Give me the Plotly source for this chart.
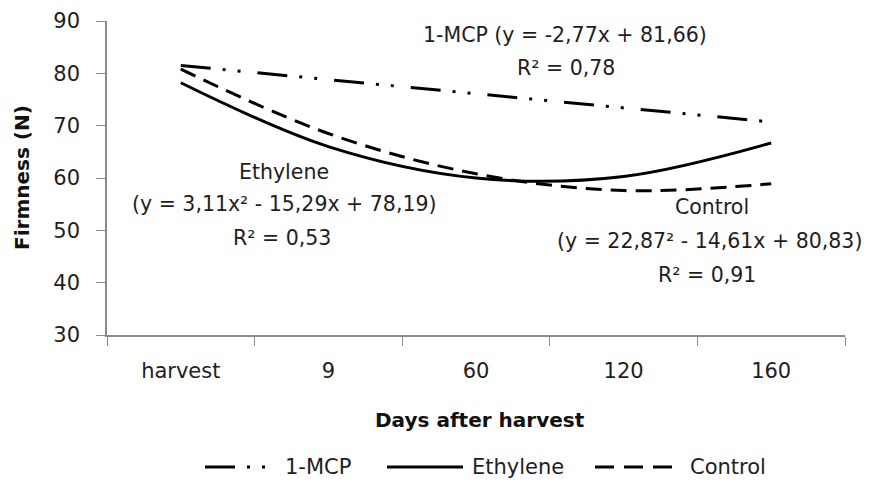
import plotly.graph_objects as go

categories = ["harvest", "9", "60", "120", "160"]
mcp = [81.5, 78.8, 76.1, 73.4, 70.7]
ethylene = [78.2, 66.0, 60.0, 60.3, 66.7]
control = [80.8, 68.5, 60.8, 57.6, 58.9]

series_names = ["1-MCP", "Ethylene", "Control"]

FONT = "DejaVu Sans"
MCP_DASH = "30px,12px,3px,12px,3px,17px"
CTRL_DASH = "16px,9px"
TXT = "#1e1e1e"

# page is 873x482; the html body adds an 8px margin around the figure
OFF = 8
W, H = 873 - OFF, 482 - OFF
PL, PT, PR, PB = 107, 21, 845, 335          # plot area in page pixels
L, T = PL - OFF, PT - OFF
R, B = 873 - PR, 482 - PB
PW, PH = PR - PL, PB - PT


def px2paper(px, py):
    return (px - PL) / PW, 1 - (py - PT) / PH


fig = go.Figure()
fig.add_trace(go.Scatter(
    x=categories, y=mcp, name=series_names[0], mode="lines",
    line=dict(color="black", width=3, dash=MCP_DASH),
))
fig.add_trace(go.Scatter(
    x=categories, y=ethylene, name=series_names[1], mode="lines",
    line=dict(color="black", width=3, shape="spline", smoothing=1.0),
))
fig.add_trace(go.Scatter(
    x=categories, y=control, name=series_names[2], mode="lines",
    line=dict(color="black", width=3, dash=CTRL_DASH, shape="spline", smoothing=1.0),
))

annotations = [
    ("1-MCP (y = -2,77x + 81,66)", 565, 35),
    ("R² = 0,78", 566, 68),
    ("Ethylene", 284, 172),
    ("(y = 3,11x² - 15,29x + 78,19)", 284, 204),
    ("R² = 0,53", 282, 238),
    ("Control", 712, 207),
    ("(y = 22,87² - 14,61x + 80,83)", 709, 241),
    ("R² = 0,91", 707, 275),
]
for text, px, py in annotations:
    x, y = px2paper(px, py)
    fig.add_annotation(
        text=text, xref="paper", yref="paper", x=x, y=y,
        xanchor="center", yanchor="middle", showarrow=False,
        font=dict(family=FONT, size=20.5, color=TXT),
    )

# axis titles
x, y = px2paper(480, 420)
fig.add_annotation(text="<b>Days after harvest</b>", xref="paper", yref="paper",
                   x=x, y=y, xanchor="center", yanchor="middle", showarrow=False,
                   font=dict(family=FONT, size=20, color="#111"))
x, y = px2paper(22, 178)
fig.add_annotation(text="<b>Firmness (N)</b>", xref="paper", yref="paper",
                   x=x, y=y, xanchor="center", yanchor="middle", showarrow=False,
                   textangle=-90, font=dict(family=FONT, size=20, color="#111"))

# manual legend (long symbols like the original)
legend_items = [
    (series_names[0], 205, 272, 283, MCP_DASH),
    (series_names[1], 387, 463, 470, "solid"),
    (series_names[2], 595, 672, 688, "19px,10px"),
]
LEG_Y = 467
for name, x0, x1, tx, dash in legend_items:
    a0, b = px2paper(x0, LEG_Y)
    a1, _ = px2paper(x1, LEG_Y)
    fig.add_shape(type="line", xref="paper", yref="paper",
                  x0=a0, x1=a1, y0=b, y1=b,
                  line=dict(color="black", width=3, dash=dash))
    ax, _ = px2paper(tx, LEG_Y)
    fig.add_annotation(text=name, xref="paper", yref="paper", x=ax, y=b,
                       xanchor="left", yanchor="middle", showarrow=False,
                       font=dict(family=FONT, size=21, color=TXT))

fig.update_layout(
    width=W, height=H,
    margin=dict(l=L, r=R, t=T, b=B, pad=0, autoexpand=False),
    paper_bgcolor="white", plot_bgcolor="white",
    font=dict(family=FONT, color=TXT),
    showlegend=False,
    xaxis=dict(
        type="category", range=[-0.5, 4.5], automargin=False,
        showline=True, linecolor="#8a8a8a", linewidth=1.5,
        ticks="outside", tickson="boundaries", ticklen=9, tickcolor="#8a8a8a",
        showgrid=False, zeroline=False,
        tickfont=dict(family=FONT, size=21, color=TXT),
        ticklabelstandoff=16,
    ),
    yaxis=dict(
        range=[30, 90], dtick=10, automargin=False,
        showline=True, linecolor="#8a8a8a", linewidth=1.5,
        ticks="outside", ticklen=9, tickcolor="#8a8a8a",
        showgrid=False, zeroline=False,
        tickfont=dict(family=FONT, size=21, color=TXT),
        ticklabelstandoff=12,
    ),
)

fig.write_html("out.html")
